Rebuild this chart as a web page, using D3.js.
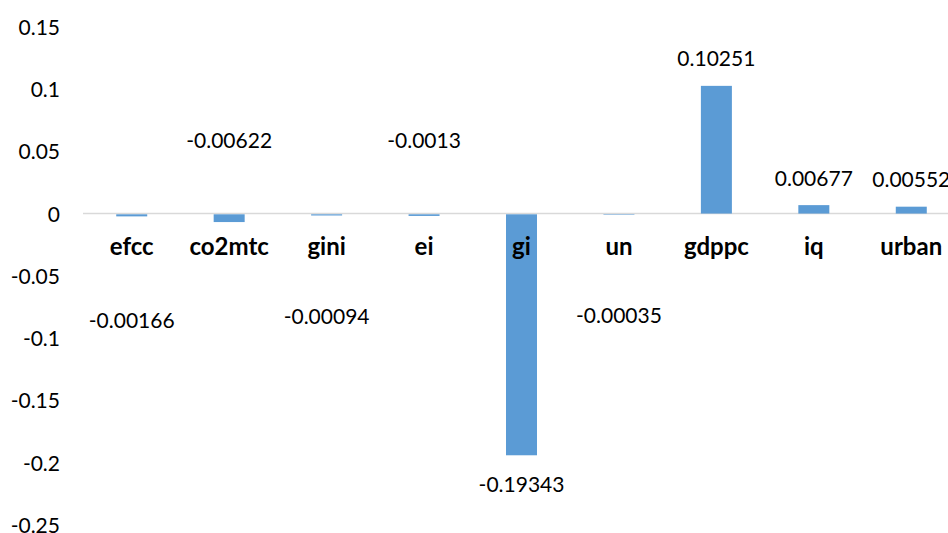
<!DOCTYPE html>
<html>
<head>
<meta charset="utf-8">
<script src="https://cdn.jsdelivr.net/npm/d3@7"></script>
<style>
  html, body { margin: 0; padding: 0; background: #fff; }
  svg { display: block; }
  text { font-family: Lato, "Open Sans", sans-serif; fill: #000; }
</style>
</head>
<body>
<svg id="chart" width="948" height="533"></svg>
<script>
// Coefficients per variable
const categories = ["efcc", "co2mtc", "gini", "ei", "gi", "un", "gdppc", "iq", "urban"];
const values = [-0.00166, -0.00622, -0.00094, -0.0013, -0.19343, -0.00035, 0.10251, 0.00677, 0.00552];
const valueLabels = ["-0.00166", "-0.00622", "-0.00094", "-0.0013", "-0.19343", "-0.00035", "0.10251", "0.00677", "0.00552"];
// Where each value label sits, in axis units (null = just outside the bar end)
const labelAt = [-0.0854, 0.0583, -0.0822, 0.0583, null, -0.0814, null, null, null];
const yTicks = [0.15, 0.1, 0.05, 0, -0.05, -0.1, -0.15, -0.2, -0.25];
const yTickLabels = ["0.15", "0.1", "0.05", "0", "-0.05", "-0.1", "-0.15", "-0.2", "-0.25"];

const svg = d3.select("#chart");

const x = d3.scaleBand().domain(categories).range([83, 960]).paddingInner(0).paddingOuter(0);
const y = d3.scaleLinear().domain([-0.25, 0.15]).range([525, 26.7]);
const barW = 31;

// Value axis labels (no axis line, no ticks)
const yAxis = d3.axisLeft(y)
  .tickValues(yTicks)
  .tickFormat((d, i) => yTickLabels[i])
  .tickSize(0)
  .tickPadding(0);
const gy = svg.append("g").attr("transform", "translate(60,0)").call(yAxis);
gy.select(".domain").remove();
gy.selectAll("text")
  .style("font-family", "Lato, 'Open Sans', sans-serif")
  .style("font-size", "21px")
  .attr("dy", "0.36em")
  .attr("fill", "#000");

// Zero line
svg.append("line")
  .attr("x1", x.range()[0]).attr("x2", x.range()[1])
  .attr("y1", y(0)).attr("y2", y(0))
  .attr("stroke", "#d9d9d9").attr("stroke-width", 1.5);

// Bars
svg.append("g").selectAll("rect")
  .data(categories)
  .join("rect")
  .attr("x", d => x(d) + x.bandwidth() / 2 - barW / 2)
  .attr("width", barW)
  .attr("y", (d, i) => Math.min(y(values[i]), y(0) + 0.75))
  .attr("height", (d, i) => Math.max(Math.abs(y(values[i]) - y(0)), 0.5))
  .attr("fill", "#5b9bd5");

// Category labels just below the zero line
svg.append("g").selectAll("text")
  .data(categories)
  .join("text")
  .attr("x", d => x(d) + x.bandwidth() / 2)
  .attr("y", y(0) + 41)
  .attr("text-anchor", "middle")
  .style("font-size", "24px")
  .style("font-weight", "bold")
  .text(d => d);

// Value labels
svg.append("g").selectAll("text")
  .data(categories)
  .join("text")
  .attr("x", d => x(d) + x.bandwidth() / 2)
  .attr("y", (d, i) => {
    if (labelAt[i] !== null) return y(labelAt[i]);
    const v = values[i];
    return v >= 0 ? y(v) - 27 : y(v) + 30;
  })
  .attr("dy", "0.36em")
  .attr("text-anchor", "middle")
  .style("font-size", "21px")
  .text((d, i) => valueLabels[i]);
</script>
</body>
</html>
